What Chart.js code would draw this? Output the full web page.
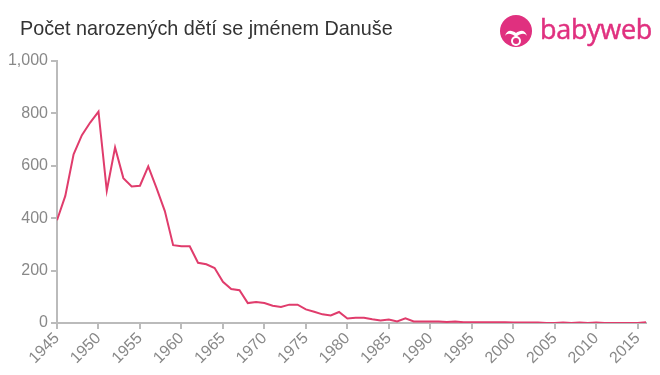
<!DOCTYPE html>
<html>
<head>
<meta charset="utf-8">
<script src="https://cdn.jsdelivr.net/npm/chart.js@4.4.1/dist/chart.umd.min.js"></script>
<style>
  html, body { margin: 0; padding: 0; background: #fff; }
  #wrap { position: relative; width: 660px; height: 375px; overflow: hidden; }
  #title {
    position: absolute; left: 20px; top: 17px;
    font-family: "Liberation Sans", Arial, sans-serif; font-size: 19.8px; color: #333;
  }
  #logo { position: absolute; left: 499px; top: 14px; }
  #logo span {
    position: absolute; left: 41px; top: -4px;
    font-family: "Open Sans", sans-serif; font-size: 27px; color: #e0307f;
    letter-spacing: -0.3px; white-space: nowrap;
    -webkit-text-stroke: 0.5px #e0307f;
  }
  canvas { position: absolute; left: 0; top: 0; }
</style>
</head>
<body>
<div id="wrap">
  <canvas id="chart" width="660" height="375"></canvas>
  <div id="title">Počet narozených dětí se jménem Danuše</div>
  <div id="logo">
    <svg width="36" height="36" viewBox="0 0 36 36">
      <circle cx="17" cy="17" r="16" fill="#e0307f"/>
      <path d="M6 22 C8 15, 13 16, 17 19 C21 16, 26 15, 28 22 C26 19, 22 19, 17 23 C12 19, 8 19, 6 22 Z" fill="#fff"/>
      <circle cx="17" cy="27" r="5" fill="#fff"/>
      <circle cx="17" cy="27" r="3" fill="#e0307f"/>
    </svg>
    <span>babyweb</span>
  </div>
</div>
<script>
// ── Données ───────────────────────────────────────────────────────────────────
const YEARS = [];
for (let y = 1945; y <= 2016; y++) YEARS.push(y);

const BIRTHS = [
  392, 485, 644, 717, 765, 807, 505, 670, 553, 521,   // 1945-1954
  524, 598, 515, 427, 297, 293, 293, 230, 224, 210,   // 1955-1964
  157, 130, 125, 76, 80, 76, 66, 61, 70, 70,          // 1965-1974
  52, 43, 33, 29, 42, 17, 20, 20, 14, 10,             // 1975-1984
  13, 6, 18, 6, 6, 6, 6, 4, 6, 3,                     // 1985-1994
  3, 3, 3, 3, 3, 2, 2, 2, 2, 0,                       // 1995-2004
  0, 2, 0, 2, 0, 2, 0, 0, 0, 0,                       // 2005-2014
  0, 3                                                // 2015-2016
];

const X_TICKS = [1945, 1950, 1955, 1960, 1965, 1970, 1975, 1980,
                 1985, 1990, 1995, 2000, 2005, 2010, 2015];
const Y_MAX  = 1000;
const Y_STEP = 200;

const points = YEARS.map((y, i) => ({ x: y, y: BIRTHS[i] }));

const axisColor = '#bbbbbb';
const tickColor = '#888888';

new Chart(document.getElementById('chart'), {
  type: 'line',
  data: {
    datasets: [{
      data: points,
      borderColor: '#e03c6c',
      borderWidth: 2,
      pointRadius: 0,
      tension: 0,
      fill: false,
    }],
  },
  options: {
    parsing: false,
    animation: false,
    responsive: false,
    layout: { padding: { left: 0, top: 61, right: 14, bottom: 0 } },
    plugins: {
      legend: { display: false },
      tooltip: { enabled: false },
    },
    scales: {
      x: {
        type: 'linear',
        min: YEARS[0],
        max: YEARS[YEARS.length - 1],
        afterBuildTicks: (s) => { s.ticks = X_TICKS.map((v) => ({ value: v })); },
        afterFit: (s) => { s.height = 52; },
        border: { color: axisColor, width: 2 },
        grid: { display: true, drawOnChartArea: false, color: axisColor, tickLength: 6, lineWidth: 2 },
        ticks: {
          minRotation: 45,
          maxRotation: 45,
          autoSkip: false,
          color: tickColor,
          padding: 0,
          font: { family: 'Liberation Sans, Arial, sans-serif', size: 16 },
          callback: (v) => String(v),
        },
      },
      y: {
        min: 0,
        max: Y_MAX,
        afterFit: (s) => { s.width = 57; },
        border: { color: axisColor, width: 2 },
        grid: { display: true, drawOnChartArea: false, color: axisColor, tickLength: 6, lineWidth: 2 },
        ticks: {
          stepSize: Y_STEP,
          color: tickColor,
          padding: 3,
          font: { family: 'Liberation Sans, Arial, sans-serif', size: 16 },
        },
      },
    },
  },
});
</script>
</body>
</html>
